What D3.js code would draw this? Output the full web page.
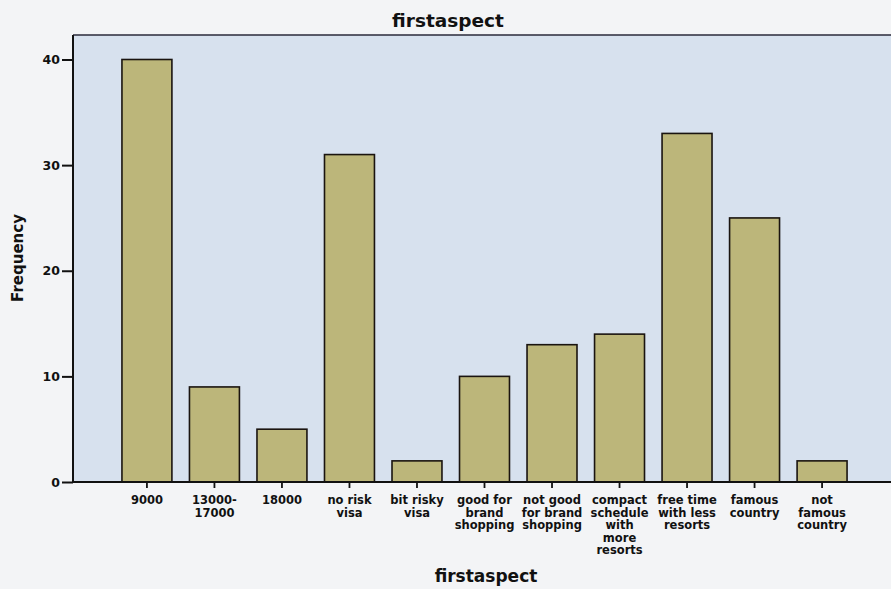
<!DOCTYPE html>
<html><head><meta charset="utf-8">
<script src="https://cdn.jsdelivr.net/npm/d3@7"></script>
<style>body{margin:0;background:#f3f4f6;}svg{display:block;}</style>
</head><body>
<svg id="c" width="891" height="589"></svg>
<script>
const categories = ["9000","13000-17000","18000","no risk visa","bit risky visa","good for brand shopping","not good for brand shopping","compact schedule with more resorts","free time with less resorts","famous country","not famous country"];
const tickLabels = [["9000"],["13000-","17000"],["18000"],["no risk","visa"],["bit risky","visa"],["good for","brand","shopping"],["not good","for brand","shopping"],["compact","schedule","with","more","resorts"],["free time","with less","resorts"],["famous","country"],["not","famous","country"]];
const frequency = [40,9,5,31,2,10,13,14,33,25,2];
const yTicks = [0,10,20,30,40];

const svg = d3.select("#c");
const pLeft = 73, pRight = 896, pTop = 35, pBottom = 482;
const x = d3.scaleBand().domain(categories).range([pLeft, pRight]).paddingInner(0.26).paddingOuter(0.725);
const y = d3.scaleLinear().domain([0, 40]).range([pBottom, 59.5]);

svg.append("rect").attr("x", pLeft).attr("y", pTop).attr("width", pRight - pLeft).attr("height", pBottom - pTop)
  .attr("fill", "#d7e1ee");
svg.append("line").attr("x1", pLeft).attr("x2", pRight).attr("y1", pTop).attr("y2", pTop)
  .attr("stroke", "#2a2a3a").attr("stroke-width", 1.5);

svg.append("g").selectAll("rect").data(categories).join("rect")
  .attr("x", d => x(d)).attr("width", x.bandwidth())
  .attr("y", (d, i) => y(frequency[i])).attr("height", (d, i) => y(0) - y(frequency[i]))
  .attr("fill", "#bcb67a").attr("stroke", "#1a1410").attr("stroke-width", 1.6);

const font = "'DejaVu Sans', Verdana, sans-serif";
const yAxis = svg.append("g").attr("transform", `translate(${pLeft},0)`)
  .call(d3.axisLeft(y).tickValues(yTicks).tickSize(11).tickPadding(2));
yAxis.select(".domain").attr("d", `M0,${pTop}V${pBottom}`).attr("stroke", "#111").attr("stroke-width", 2);
yAxis.selectAll(".tick line").attr("stroke", "#111").attr("stroke-width", 2);
yAxis.selectAll(".tick text").attr("font-family", font).attr("font-size", 12.5).attr("font-weight", "bold").attr("fill", "#111");

const xAxis = svg.append("g").attr("transform", `translate(0,${pBottom})`)
  .call(d3.axisBottom(x).tickSize(6).tickFormat(""));
xAxis.select(".domain").attr("d", `M${pLeft},0H${pRight}`).attr("stroke", "#111").attr("stroke-width", 2);
xAxis.selectAll(".tick line").attr("stroke", "#111").attr("stroke-width", 1.8);
xAxis.selectAll(".tick").each(function(d, i) {
  const t = d3.select(this).append("text").attr("fill", "#111").attr("font-family", font)
    .attr("font-size", 11.5).attr("font-weight", "bold").attr("text-anchor", "middle").attr("y", 22);
  tickLabels[i].forEach((line, j) => t.append("tspan").attr("x", 0).attr("dy", j === 0 ? 0 : 12.5).text(line));
});

svg.append("text").attr("x", 448).attr("y", 27).attr("text-anchor", "middle")
  .attr("font-family", font).attr("font-weight", "bold").attr("font-size", 18.5).attr("fill", "#111").text("firstaspect");
svg.append("text").attr("x", 486).attr("y", 582).attr("text-anchor", "middle")
  .attr("font-family", font).attr("font-weight", "bold").attr("font-size", 17).attr("fill", "#111").text("firstaspect");
svg.append("text").attr("transform", "translate(23,258) rotate(-90)").attr("text-anchor", "middle")
  .attr("font-family", font).attr("font-weight", "bold").attr("font-size", 15).attr("fill", "#111").text("Frequency");
</script>
</body></html>
